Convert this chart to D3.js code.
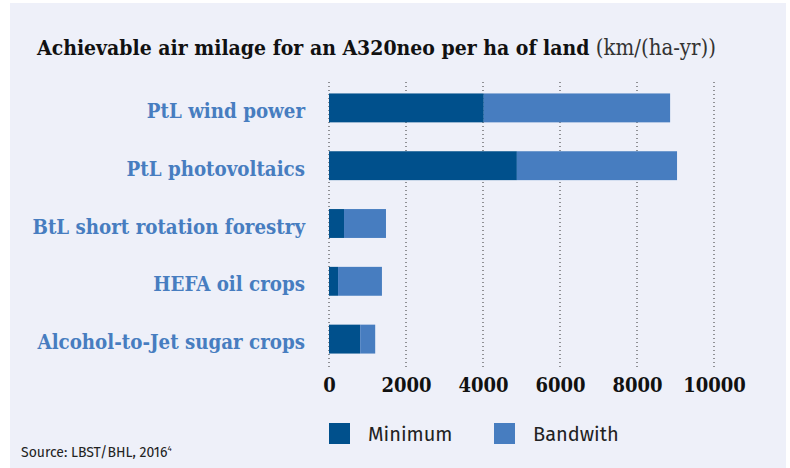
<!DOCTYPE html>
<html>
<head>
<meta charset="utf-8">
<script src="https://cdn.jsdelivr.net/npm/d3@7"></script>
<style>
  body { margin: 0; background: #fff; }
  svg { display: block; }
</style>
</head>
<body>
<div id="chart"></div>
<script>
// data
const categories = ["PtL wind power", "PtL photovoltaics", "BtL short rotation forestry", "HEFA oil crops", "Alcohol-to-Jet sugar crops"];
const minimum = [4020, 4880, 390, 235, 810];
const bandwith = [4840, 4160, 1090, 1140, 390];
const xTicks = [0, 2000, 4000, 6000, 8000, 10000];
const seriesNames = ["Minimum", "Bandwith"];
const seriesColors = ["#00508c", "#477dc0"];

const W = 790, H = 468;
const slab = "'DejaVu Serif', serif";
const sans = "'Fira Sans', 'Noto Sans', 'Open Sans', sans-serif";

const svg = d3.select("#chart").append("svg")
  .attr("width", W).attr("height", H);

// panel background
svg.append("rect")
  .attr("x", 10).attr("y", 3)
  .attr("width", 776).attr("height", H - 3)
  .attr("fill", "#eef0f9");

// title
const title = svg.append("text")
  .attr("x", 37).attr("y", 55)
  .attr("font-family", slab)
  .attr("font-size", 21)
  .attr("fill", "#111");
title.append("tspan")
  .attr("font-weight", "bold")
  .style("font-stretch", "condensed")
  .text("Achievable air milage for an A320neo per ha of land");
title.append("tspan")
  .style("font-stretch", "condensed")
  .attr("font-size", 22)
  .attr("fill", "#333")
  .text(" (km/(ha-yr))");

const x = d3.scaleLinear()
  .domain([0, 10000])
  .range([329, 714]);

const y = d3.scaleBand()
  .domain(categories)
  .range([79, 368])
  .paddingInner(0.5)
  .paddingOuter(0.25);

// dotted grid
svg.append("g")
  .selectAll("line")
  .data(xTicks).enter()
  .append("line")
  .attr("x1", d => x(d)).attr("x2", d => x(d))
  .attr("y1", 82).attr("y2", 367)
  .attr("stroke", "#333")
  .attr("stroke-width", 1)
  .attr("stroke-dasharray", "1,3");

// stacked bars
const rows = categories.map((c, i) => ({ cat: c, Minimum: minimum[i], Bandwith: bandwith[i] }));
const stacked = d3.stack().keys(seriesNames)(rows);

svg.append("g")
  .selectAll("g")
  .data(stacked).enter()
  .append("g")
  .attr("fill", (d, i) => seriesColors[i])
  .selectAll("rect")
  .data(d => d).enter()
  .append("rect")
  .attr("x", d => x(d[0]))
  .attr("width", d => x(d[1]) - x(d[0]))
  .attr("y", d => y(d.data.cat))
  .attr("height", y.bandwidth());

// category labels
svg.append("g")
  .selectAll("text")
  .data(categories).enter()
  .append("text")
  .attr("x", 305)
  .attr("y", d => y(d) + y.bandwidth() / 2)
  .attr("dy", "0.5em")
  .attr("text-anchor", "end")
  .attr("font-family", slab)
  .attr("font-weight", "bold")
  .style("font-stretch", "condensed")
  .attr("font-size", 20.3)
  .attr("fill", "#477dc0")
  .text(d => d);

// x axis
const xAxis = svg.append("g")
  .attr("transform", "translate(0,367)")
  .call(d3.axisBottom(x).tickValues(xTicks).tickFormat(d3.format("d")).tickSize(0).tickPadding(11));
xAxis.select(".domain").remove();
xAxis.selectAll("text")
  .attr("font-family", slab)
  .attr("font-weight", "bold")
  .style("font-stretch", "condensed")
  .attr("font-size", 20)
  .attr("fill", "#111");

// legend
const legend = svg.append("g")
  .selectAll("g")
  .data(seriesNames).enter()
  .append("g")
  .attr("transform", (d, i) => "translate(" + (329 + i * 165) + ",423)");
legend.append("rect")
  .attr("width", 21).attr("height", 21)
  .attr("fill", (d, i) => seriesColors[i]);
legend.append("text")
  .attr("x", 39).attr("y", 11)
  .attr("dy", "0.36em")
  .attr("font-family", sans)
  .attr("font-size", 20)
  .attr("fill", "#222")
  .text(d => d);

// source
const src = svg.append("text")
  .attr("x", 21).attr("y", 457)
  .attr("font-family", sans)
  .attr("font-size", 14)
  .attr("fill", "#222")
  .text("Source: LBST/BHL, 2016");
src.append("tspan")
  .attr("font-size", 8)
  .attr("dy", -6)
  .text("4");
</script>
</body>
</html>
